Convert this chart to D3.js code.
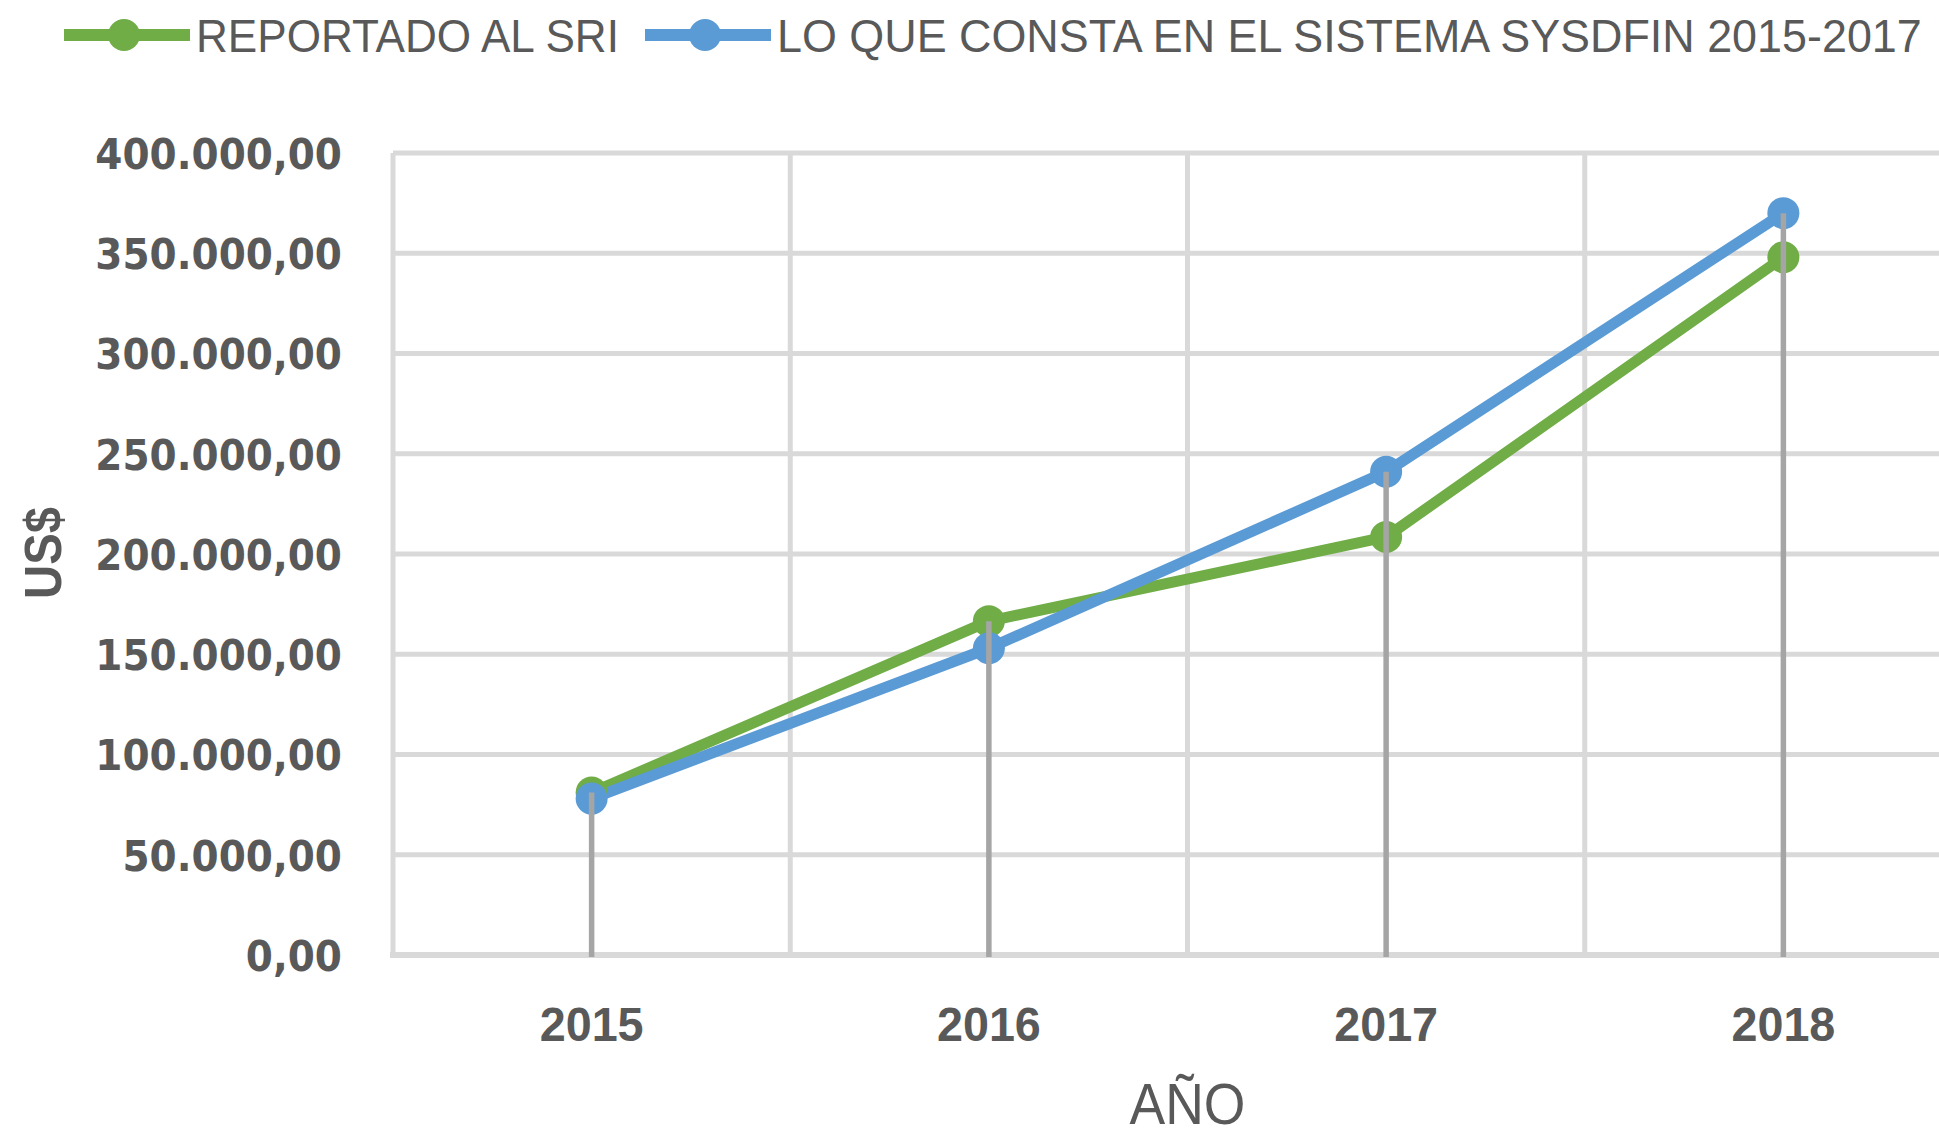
<!DOCTYPE html>
<html>
<head>
<meta charset="utf-8">
<script src="https://cdn.jsdelivr.net/npm/d3@7"></script>
<style>
  body { margin: 0; background: #fff; }
  svg { display: block; }
</style>
</head>
<body>
<div id="chart"></div>
<script>
var years = ["2015", "2016", "2017", "2018"];
var reportado = [81000, 166500, 208500, 348000];
var sysdfin = [78000, 153000, 241000, 370000];
var yTicks = [0, 50000, 100000, 150000, 200000, 250000, 300000, 350000, 400000];
var seriesNames = ["REPORTADO AL SRI", "LO QUE CONSTA EN EL SISTEMA SYSDFIN 2015-2017"];
var seriesColors = ["#70ad47", "#5b9bd5"];

(function() {
	var width = 1939, height = 1138;
	var plot = { left: 393, right: 1982, top: 153, bottom: 955 };
	var textColor = "#595959", gridColor = "#d9d9d9";
	var narrow = "Liberation Sans";

	var svg = d3.select("#chart")
				.append("svg")
				.attr("width", width)
				.attr("height", height);

	svg.append("rect").attr("width", width).attr("height", height).attr("fill", "#fff");

	// squeeze a text horizontally to a given width (the source font is condensed)
	function squeeze(sel, w, x, y) {
		sel.each(function() {
			var n = this.getComputedTextLength();
			var sx = w / n;
			d3.select(this).attr("transform", "translate(" + x + "," + y + ")scale(" + sx + ",1)");
		});
	}

	var xScale = d3.scaleBand().domain(years).range([plot.left, plot.right]).padding(0);
	var yScale = d3.scaleLinear().domain([0, 400000]).range([plot.bottom, plot.top]);

	var locale = d3.formatLocale({ decimal: ",", thousands: ".", grouping: [3], currency: ["$", ""] });
	var fmt = locale.format(",.2f");

	// horizontal gridlines
	svg.append("g")
		.selectAll("line")
		.data(yTicks)
		.enter().append("line")
		.attr("x1", plot.left)
		.attr("x2", plot.right)
		.attr("y1", function(d) { return yScale(d) })
		.attr("y2", function(d) { return yScale(d) })
		.attr("stroke", gridColor)
		.attr("stroke-width", 5);

	// vertical gridlines at band edges
	var edges = years.map(function(d) { return xScale(d) }).concat([plot.right]);
	svg.append("g")
		.selectAll("line")
		.data(edges)
		.enter().append("line")
		.attr("x1", function(d) { return d })
		.attr("x2", function(d) { return d })
		.attr("y1", plot.top)
		.attr("y2", plot.bottom)
		.attr("stroke", gridColor)
		.attr("stroke-width", 5);

	// x axis line
	svg.append("line")
		.attr("x1", plot.left - 3).attr("x2", plot.right)
		.attr("y1", yScale(0)).attr("y2", yScale(0))
		.attr("stroke", gridColor)
		.attr("stroke-width", 6);

	// y axis labels
	var yAxis = d3.axisLeft(yScale).tickValues(yTicks).tickFormat(fmt).tickSize(0).tickPadding(51);
	var gy = svg.append("g")
		.attr("transform", "translate(" + plot.left + ",0)")
		.call(yAxis);
	gy.select(".domain").remove();
	gy.selectAll("text")
		.attr("font-family", "DejaVu Sans")
		.attr("font-weight", "bold")
		.attr("font-size", 39)
		.attr("transform", "scale(1,1.1)")
		.attr("fill", textColor)
		.attr("dy", "0.36em");

	// x axis labels
	var xAxis = d3.axisBottom(xScale).tickSize(0).tickPadding(52);
	var gx = svg.append("g")
		.attr("transform", "translate(0," + plot.bottom + ")")
		.call(xAxis);
	gx.select(".domain").remove();
	gx.selectAll("text")
		.attr("font-family", narrow)
		.attr("font-weight", "bold")
		.attr("font-size", 48)
		.attr("fill", textColor)
		.attr("y", 0);
	squeeze(gx.selectAll("text"), 104, 0, 52);

	// axis titles
	var xTitle = svg.append("text")
		.attr("text-anchor", "middle")
		.attr("font-family", narrow)
		.attr("font-size", 58)
		.attr("fill", textColor)
		.text("AÑO");
	squeeze(xTitle, 116, (plot.left + plot.right) / 2, 1124);

	svg.append("g")
		.attr("transform", "translate(61,553)rotate(-90)")
		.append("text")
		.attr("text-anchor", "middle")
		.attr("font-family", narrow)
		.attr("font-weight", "bold")
		.attr("font-size", 52)
		.attr("fill", textColor)
		.text("US$")
		.call(squeeze, 92, 0, 0);

	var series = [reportado, sysdfin];
	var cx = function(d, i) { return xScale(years[i]) + xScale.bandwidth() / 2 };
	var line = d3.line()
		.x(cx)
		.y(function(d) { return yScale(d) });

	series.forEach(function(values, s) {
		svg.append("path")
			.datum(values)
			.attr("d", line)
			.attr("fill", "none")
			.attr("stroke", seriesColors[s])
			.attr("stroke-width", 11)
			.attr("stroke-linejoin", "round");
	});
	series.forEach(function(values, s) {
		svg.append("g")
			.selectAll("circle")
			.data(values)
			.enter().append("circle")
			.attr("cx", cx)
			.attr("cy", function(d) { return yScale(d) })
			.attr("r", 16)
			.attr("fill", seriesColors[s]);
	});

	// drop lines from the highest point down to the axis
	svg.append("g")
		.selectAll("line")
		.data(years)
		.enter().append("line")
		.attr("x1", function(d) { return xScale(d) + xScale.bandwidth() / 2 })
		.attr("x2", function(d) { return xScale(d) + xScale.bandwidth() / 2 })
		.attr("y1", function(d, i) { return yScale(Math.max(reportado[i], sysdfin[i])) })
		.attr("y2", yScale(0) + 2)
		.attr("stroke", "#a5a5a5")
		.attr("stroke-width", 5.5);

	// legend
	var legendX = [64, 645];
	var legendW = [423, 1145];
	var legend = svg.append("g");
	seriesNames.forEach(function(name, s) {
		var g = legend.append("g").attr("transform", "translate(" + legendX[s] + ",35)");
		g.append("line")
			.attr("x1", 0).attr("x2", 126)
			.attr("y1", 0).attr("y2", 0)
			.attr("stroke", seriesColors[s])
			.attr("stroke-width", 12);
		g.append("circle")
			.attr("cx", 60).attr("cy", 0).attr("r", 16)
			.attr("fill", seriesColors[s]);
		g.append("text")
			.attr("dy", "0.36em")
			.attr("font-family", narrow)
			.attr("font-size", 46)
			.attr("fill", textColor)
			.text(name)
			.call(squeeze, legendW[s], 132, 0);
	});
})();
</script>
</body>
</html>
